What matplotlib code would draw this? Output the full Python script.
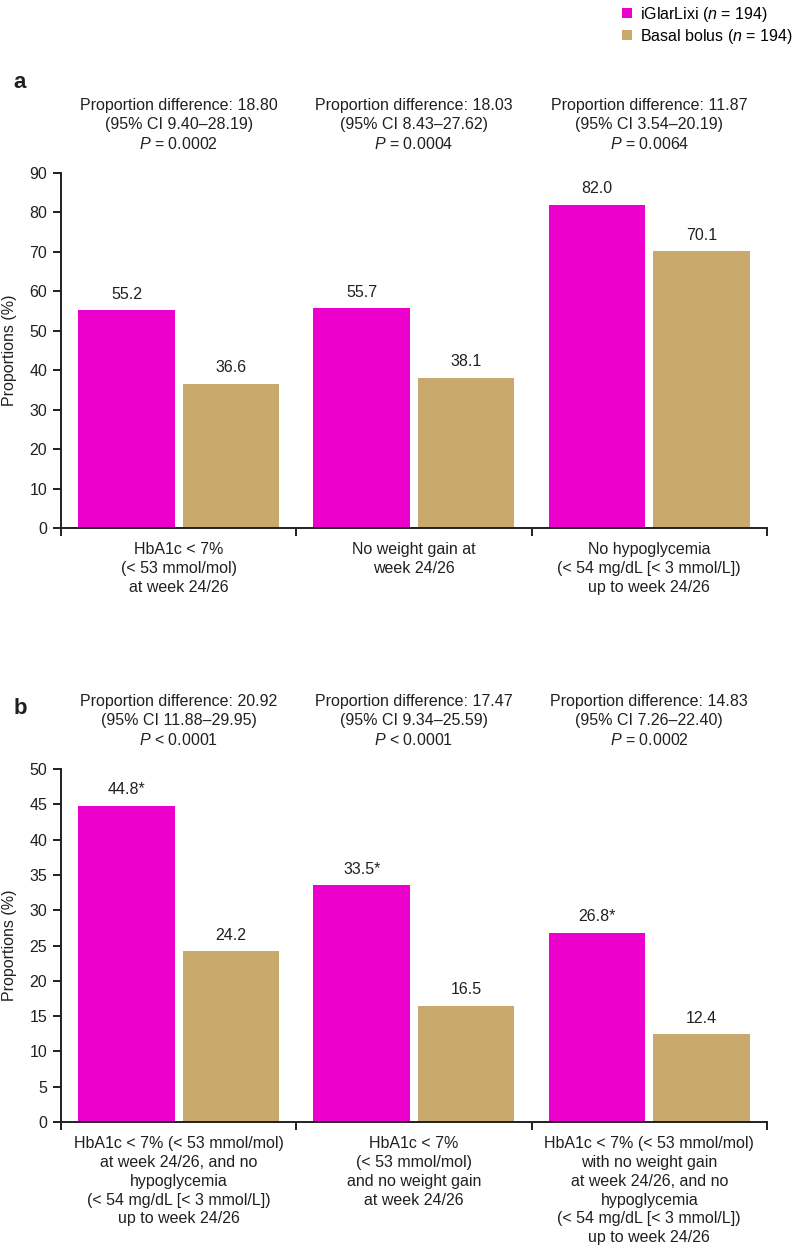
import matplotlib
matplotlib.use("Agg")
import matplotlib.pyplot as plt
import numpy as np

plt.rcParams["font.family"] = ["Liberation Sans", "DejaVu Sans"]
plt.rcParams["mathtext.fontset"] = "custom"
plt.rcParams["mathtext.rm"] = "Liberation Sans"
plt.rcParams["mathtext.it"] = "Liberation Sans:italic"

# ── data ────────────────────────────────────────────────────────
series_names = ["iGlarLixi ($n$ = 194)", "Basal bolus ($n$ = 194)"]

a_categories = [
    "HbA1c < 7%\n(< 53 mmol/mol)\nat week 24/26",
    "No weight gain at\nweek 24/26",
    "No hypoglycemia\n(< 54 mg/dL [< 3 mmol/L])\nup to week 24/26",
]
a_iglar = [55.2, 55.7, 82.0]
a_basal = [36.6, 38.1, 70.1]
a_headers = [
    "Proportion difference: 18.80\n(95% CI 9.40–28.19)\n$P$ = 0.0002",
    "Proportion difference: 18.03\n(95% CI 8.43–27.62)\n$P$ = 0.0004",
    "Proportion difference: 11.87\n(95% CI 3.54–20.19)\n$P$ = 0.0064",
]

b_categories = [
    "HbA1c < 7% (< 53 mmol/mol)\nat week 24/26, and no\nhypoglycemia\n(< 54 mg/dL [< 3 mmol/L])\nup to week 24/26",
    "HbA1c < 7%\n(< 53 mmol/mol)\nand no weight gain\nat week 24/26",
    "HbA1c < 7% (< 53 mmol/mol)\nwith no weight gain\nat week 24/26, and no\nhypoglycemia\n(< 54 mg/dL [< 3 mmol/L])\nup to week 24/26",
]
b_iglar = [44.8, 33.5, 26.8]
b_basal = [24.2, 16.5, 12.4]
b_headers = [
    "Proportion difference: 20.92\n(95% CI 11.88–29.95)\n$P$ < 0.0001",
    "Proportion difference: 17.47\n(95% CI 9.34–25.59)\n$P$ < 0.0001",
    "Proportion difference: 14.83\n(95% CI 7.26–22.40)\n$P$ = 0.0002",
]

MAGENTA = "#EE00CC"
TAN = "#C9AA6C"
INK = "#231F20"
FS = 11.5

fig = plt.figure(figsize=(7.97, 12.5), dpi=100)
ax_a = fig.add_axes([0.0765, 0.5776, 0.8858, 0.2840])
ax_b = fig.add_axes([0.0765, 0.1024, 0.8858, 0.2824])


def draw_panel(ax, iglar, basal, cats, headers, ymax, ystep, star):
    x = np.arange(len(cats))
    b1 = ax.bar(x + 0.278, iglar, width=0.41, color=MAGENTA, linewidth=0,
                label=series_names[0])
    b2 = ax.bar(x + 0.722, basal, width=0.41, color=TAN, linewidth=0,
                label=series_names[1])
    ax.bar_label(b1, labels=[f"{v:.1f}*" if star else f"{v:.1f}" for v in iglar],
                 padding=6, fontsize=FS, color=INK)
    ax.bar_label(b2, labels=[f"{v:.1f}" for v in basal],
                 padding=6, fontsize=FS, color=INK)

    ax.set_xlim(0, len(cats))
    ax.set_ylim(0, ymax)
    ax.set_yticks(np.arange(0, ymax + 0.1, ystep))
    ax.set_xticks(np.arange(len(cats) + 1))
    ax.set_xticklabels([])
    for s in ("top", "right"):
        ax.spines[s].set_visible(False)
    for s in ("left", "bottom"):
        ax.spines[s].set_linewidth(1.4)
        ax.spines[s].set_color(INK)
    ax.tick_params(axis="both", direction="out", length=6, width=1.4,
                   color=INK, labelsize=FS, labelcolor=INK, pad=4)

    for i, (c, h) in enumerate(zip(cats, headers)):
        ax.annotate(c, xy=(i + 0.5, 0), xycoords=("data", "axes fraction"),
                    xytext=(0, -14), textcoords="offset pixels",
                    ha="center", va="top", fontsize=FS, color=INK,
                    linespacing=1.32)
        ax.annotate(h, xy=(i + 0.5, 1), xycoords=("data", "axes fraction"),
                    xytext=(0, 48), textcoords="offset pixels",
                    ha="center", va="center", fontsize=FS, color=INK,
                    linespacing=1.3)


draw_panel(ax_a, a_iglar, a_basal, a_categories, a_headers, 90, 10, False)
draw_panel(ax_b, b_iglar, b_basal, b_categories, b_headers, 50, 5, True)

fig.text(10 / 797, 0.72, "Proportions (%)", rotation=90, ha="center",
         va="center", fontsize=FS, color=INK)
fig.text(10 / 797, 0.244, "Proportions (%)", rotation=90, ha="center",
         va="center", fontsize=FS, color=INK)
fig.text(20 / 797, 1 - 82 / 1250, "a", fontsize=16, fontweight="bold",
         ha="center", va="center", color=INK)
fig.text(20 / 797, 1 - 708 / 1250, "b", fontsize=16, fontweight="bold",
         ha="center", va="center", color=INK)

handles, labels = ax_a.get_legend_handles_labels()
fig.legend(handles, labels, loc="upper right", bbox_to_anchor=(1.0, 1.0),
           frameon=False, fontsize=FS, handlelength=0.6, handleheight=0.6,
           handletextpad=0.5, labelspacing=0.2, borderpad=0.1,
           borderaxespad=0.2)

fig.savefig("out.png", dpi=100)
